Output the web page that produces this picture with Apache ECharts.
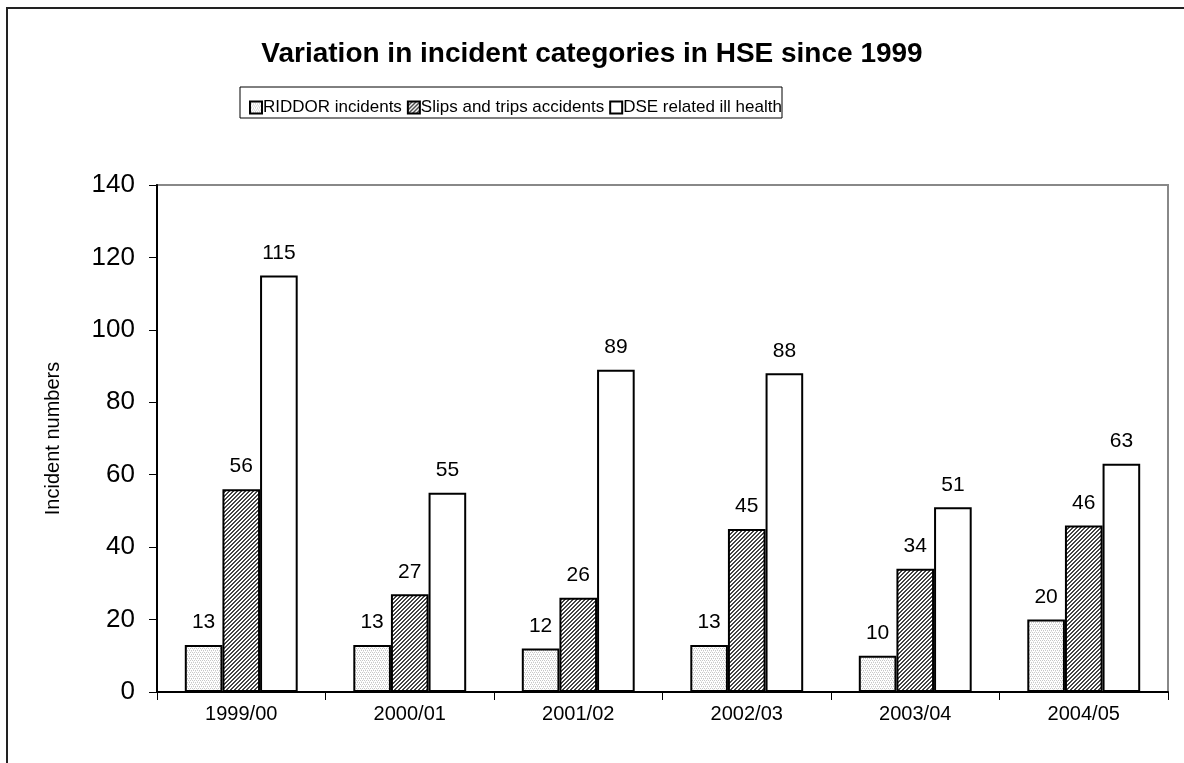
<!DOCTYPE html>
<html>
<head>
<meta charset="utf-8">
<script src="https://cdn.jsdelivr.net/npm/echarts@6/dist/echarts.min.js"></script>
<style>
  html, body { margin: 0; padding: 0; background: #fff; }
  #main { width: 1184px; height: 763px; }
</style>
</head>
<body>
<div id="main"></div>
<script>
// data
var years = ['1999/00', '2000/01', '2001/02', '2002/03', '2003/04', '2004/05'];
var riddor = [13, 13, 12, 13, 10, 20];
var slips = [56, 27, 26, 45, 34, 46];
var dse = [115, 55, 89, 88, 51, 63];
var yTicks = [0, 20, 40, 60, 80, 100, 120, 140];

// small fill patterns like the excel ones
function makePattern(kind) {
    var c = document.createElement('canvas');
    c.width = 4; c.height = 4;
    var g = c.getContext('2d');
    g.fillStyle = '#fff';
    g.fillRect(0, 0, 4, 4);
    if (kind == 'dots') {
        g.fillStyle = '#c8c8c8';
        g.fillRect(0, 0, 1, 1); g.fillRect(2, 0, 1, 1);
        g.fillRect(1, 2, 1, 1); g.fillRect(3, 2, 1, 1);
        g.fillStyle = '#e4e4e4';
        g.fillRect(1, 1, 1, 1); g.fillRect(3, 3, 1, 1);
    } else {
        g.fillStyle = '#444';
        for (var i = 0; i < 4; i++) {
            g.fillRect((i + 0) % 4, 3 - i, 1, 1);
            g.fillRect((i + 1) % 4, 3 - i, 1, 1);
        }
    }
    return { image: c, repeat: 'repeat' };
}

var font = '"Liberation Sans", Arial, sans-serif';
var labelStyle = { show: true, position: 'top', distance: 12, color: '#000', fontSize: 21, fontFamily: font };

var myChart = echarts.init(document.getElementById('main'));
var option = {
    animation: false,
    backgroundColor: '#fff',
    graphic: [
        {
            type: 'rect', z: -1,
            shape: { x: 7, y: 8, width: 1200, height: 800 },
            style: { fill: '#fff', stroke: '#222', lineWidth: 2 }
        },
        {
            type: 'rect', z: 1,
            shape: { x: 240, y: 87, width: 542, height: 31 },
            style: { fill: 'none', stroke: '#000', lineWidth: 1 }
        }
    ],
    title: {
        text: 'Variation in incident categories in HSE since 1999',
        left: 'center',
        top: 35,
        textStyle: { fontFamily: font, fontWeight: 'bold', fontSize: 28, color: '#000' }
    },
    legend: {
        left: 244,
        top: 94,
        itemGap: 5,
        itemWidth: 12,
        itemHeight: 12,
        icon: 'rect',
        textStyle: { fontFamily: font, fontSize: 17, color: '#000', padding: [0, 0, 0, -4] },
        data: ['RIDDOR incidents', 'Slips and trips accidents', 'DSE related ill health']
    },
    grid: {
        left: 157, top: 185, right: 16, bottom: 71,
        show: true, borderColor: '#888', borderWidth: 2, backgroundColor: '#fff'
    },
    xAxis: {
        type: 'category',
        data: years,
        axisLine: { lineStyle: { color: '#000', width: 2 } },
        axisTick: { show: true, length: 8, lineStyle: { color: '#000' } },
        axisLabel: { color: '#000', fontSize: 20, fontFamily: font, margin: 12 }
    },
    yAxis: {
        type: 'value',
        min: yTicks[0],
        max: yTicks[yTicks.length - 1],
        interval: 20,
        name: 'Incident numbers',
        nameLocation: 'middle',
        nameGap: 94,
        nameTextStyle: { fontSize: 20, fontFamily: font, color: '#000' },
        axisLine: { show: true, lineStyle: { color: '#000', width: 2 } },
        axisTick: { show: true, length: 8, lineStyle: { color: '#000' } },
        axisLabel: { color: '#000', fontSize: 26, fontFamily: font, margin: 22 },
        splitLine: { show: false }
    },
    series: [
        {
            name: 'RIDDOR incidents', type: 'bar', data: riddor,
            barGap: '0%', barCategoryGap: '33%',
            itemStyle: { color: makePattern('dots'), borderColor: '#000', borderWidth: 2 },
            label: labelStyle
        },
        {
            name: 'Slips and trips accidents', type: 'bar', data: slips,
            itemStyle: { color: makePattern('hatch'), borderColor: '#000', borderWidth: 2 },
            label: labelStyle
        },
        {
            name: 'DSE related ill health', type: 'bar', data: dse,
            itemStyle: { color: '#fff', borderColor: '#000', borderWidth: 2 },
            label: labelStyle
        }
    ]
};
myChart.setOption(option);
</script>
</body>
</html>
